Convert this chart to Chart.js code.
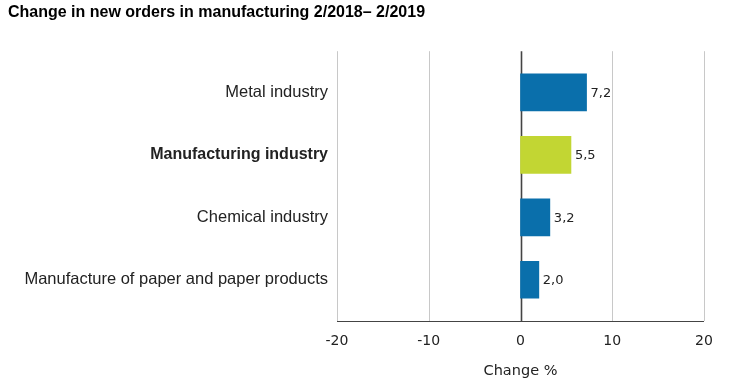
<!DOCTYPE html>
<html>
<head>
<meta charset="utf-8">
<script src="https://cdn.jsdelivr.net/npm/chart.js@4/dist/chart.umd.min.js"></script>
<style>
  html, body { margin: 0; padding: 0; background: #fff; }
  #wrap { width: 752px; height: 382px; position: relative; }
</style>
</head>
<body>
<div id="wrap"><canvas id="myChart"></canvas></div>
<script>
const categories = ['Metal industry', 'Manufacturing industry', 'Chemical industry', 'Manufacture of paper and paper products']
const changes = [7.2, 5.5, 3.2, 2.0]
const xTicks = [-20, -10, 0, 10, 20]

const blueColor = '#0a6fab'
const greenColor = '#c2d633'
const gridColor = '#c8c8c8'
const axisColor = '#444444'
const totalLabel = 'Manufacturing industry'

// grid lines reach a bit past the bars, so draw them here
const gridPlugin = {
  id: 'gridLines',
  beforeDatasetsDraw(chart) {
    var ctx = chart.ctx
    var area = chart.chartArea
    var x = chart.scales.x
    var top = area.top - 10
    var bottom = area.bottom + 10
    ctx.save()
    xTicks.forEach(function (t) {
      var px = Math.round(x.getPixelForValue(t)) + 0.5
      ctx.beginPath()
      ctx.strokeStyle = t === 0 ? axisColor : gridColor
      ctx.lineWidth = t === 0 ? 1.6 : 1
      ctx.moveTo(px, top)
      ctx.lineTo(px, bottom)
      ctx.stroke()
    })
    ctx.beginPath()
    ctx.strokeStyle = axisColor
    ctx.lineWidth = 1
    ctx.moveTo(x.getPixelForValue(xTicks[0]), bottom + 0.5)
    ctx.lineTo(x.getPixelForValue(xTicks[xTicks.length - 1]), bottom + 0.5)
    ctx.stroke()
    ctx.restore()
  }
}

// value labels next to the bars, decimal comma
const valuePlugin = {
  id: 'valueLabels',
  afterDatasetsDraw(chart) {
    var ctx = chart.ctx
    var meta = chart.getDatasetMeta(0)
    ctx.save()
    ctx.font = '13px "DejaVu Sans"'
    ctx.fillStyle = '#222'
    ctx.textAlign = 'left'
    ctx.textBaseline = 'middle'
    meta.data.forEach(function (bar, i) {
      ctx.fillText(changes[i].toFixed(1).replace('.', ','), bar.x + 4, bar.y + 1)
    })
    ctx.restore()
  }
}

var ctx = document.getElementById('myChart')
new Chart(ctx, {
  type: 'bar',
  data: {
    labels: categories,
    datasets: [{
      data: changes,
      backgroundColor: function (c) {
        return categories[c.index] === totalLabel ? greenColor : blueColor
      },
      barThickness: 37
    }]
  },
  options: {
    indexAxis: 'y',
    responsive: true,
    maintainAspectRatio: false,
    animation: false,
    devicePixelRatio: 1,
    layout: { padding: { left: 8, right: 48, top: 0, bottom: 0 } },
    plugins: {
      legend: { display: false },
      tooltip: { enabled: false },
      title: {
        display: true,
        text: 'Change in new orders in manufacturing 2/2018\u2013 2/2019',
        align: 'start',
        color: '#000',
        font: { family: '"Liberation Sans", Arial', size: 16, weight: 'bold' },
        padding: { top: 3, bottom: 39 }
      }
    },
    scales: {
      x: {
        type: 'linear',
        min: -20,
        max: 20,
        afterBuildTicks: function (scale) {
          scale.ticks = xTicks.map(function (v) { return { value: v } })
        },
        grid: { display: false, drawTicks: false },
        border: { display: false },
        ticks: {
          color: '#222',
          padding: 22,
          font: { family: '"DejaVu Sans"', size: 14 }
        },
        title: {
          display: true,
          text: 'Change %',
          color: '#222',
          font: { family: '"DejaVu Sans"', size: 14.5 },
          padding: { top: 8, bottom: 2 }
        },
        afterFit: function (scale) { scale.height = 71 }
      },
      y: {
        grid: { display: false, drawTicks: false },
        border: { display: false },
        ticks: {
          color: '#222',
          padding: 9,
          font: function (c) {
            var bold = categories[c.index] === totalLabel
            return { family: '"Liberation Sans", Arial', size: bold ? 16 : 16.5, weight: bold ? 'bold' : 'normal' }
          }
        },
        afterFit: function (scale) { scale.width = 329 }
      }
    }
  },
  plugins: [gridPlugin, valuePlugin]
})
</script>
</body>
</html>
